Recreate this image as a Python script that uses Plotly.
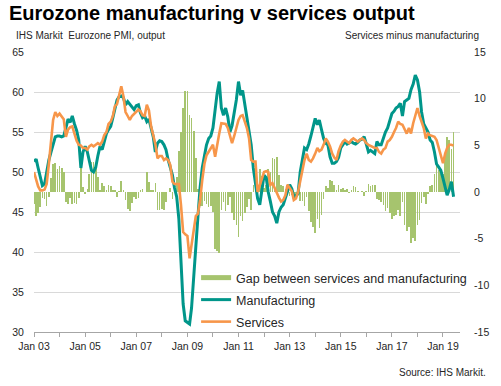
import pandas as pd
import plotly.graph_objects as go

# Monthly data, Jan 2003 - Jun 2019
months = pd.date_range("2003-01-01", periods=198, freq="MS")

manufacturing = [
    # 2003
    51.3, 51.6, 50.5, 49.3, 48.3, 48.5, 50.0, 51.5, 52.5, 53.5, 54.4, 54.5,
    # 2004
    54.5, 54.4, 54.5, 55.5, 56.6, 56.2, 57.0, 56.0, 55.2, 54.0, 50.5, 52.5,
    # 2005
    53.2, 52.5, 51.3, 50.2, 50.0, 50.6, 52.0, 53.2, 52.8, 54.0, 54.8, 55.3,
    # 2006
    55.7, 56.8, 58.0, 59.0, 59.4, 59.5, 59.3, 58.4, 58.8, 58.5, 58.2, 57.8,
    # 2007
    58.3, 58.4, 57.4, 56.8, 57.0, 56.3, 56.6, 55.5, 54.4, 52.5, 53.6, 53.9,
    # 2008
    53.8, 53.4, 52.8, 51.5, 50.5, 49.6, 48.0, 46.9, 44.1, 39.5, 33.5, 31.4,
    # 2009
    31.2, 31.0, 33.0, 36.5, 40.9, 44.5, 48.0, 50.5, 52.0, 53.4, 54.2, 54.5,
    # 2010
    55.5, 58.0, 59.8, 61.3, 58.0, 57.1, 58.0, 56.9, 55.0, 55.8, 57.5, 59.0,
    # 2011
    61.3, 59.6, 60.2, 58.5, 57.1, 55.0, 53.4, 50.5, 48.5, 46.7, 45.9, 47.5,
    # 2012
    49.6, 49.3, 47.5, 46.3, 45.0, 44.5, 43.6, 45.0, 45.6, 45.9, 46.8, 47.5,
    # 2013
    48.4, 47.9, 46.9, 47.0, 47.3, 50.0, 51.5, 53.0, 52.8, 53.5, 54.5, 55.5,
    # 2014
    56.7, 55.9, 56.5, 55.3, 54.2, 53.6, 53.4, 51.9, 51.1, 51.1, 51.3, 51.8,
    # 2015
    53.0, 53.4, 53.8, 53.5, 53.7, 53.8, 53.6, 53.5, 53.7, 54.0, 54.1, 54.4,
    # 2016
    53.5, 52.5, 52.7, 52.5, 52.3, 53.8, 53.4, 53.4, 54.2, 55.0, 55.5, 56.3,
    # 2017
    57.3, 57.6, 58.0, 58.2, 58.6, 57.0, 58.8, 59.0, 59.2, 60.3, 61.0, 62.1,
    # 2018
    61.5, 60.0, 57.5, 56.0, 55.5, 55.0, 54.0, 53.7, 52.5, 51.0, 50.6, 50.2,
    # 2019
    49.2, 48.2, 47.1, 47.8, 48.8, 46.9,
]

services = [
    # 2003
    50.0, 49.0, 48.2, 47.7, 47.7, 47.8, 48.5, 51.0, 54.0, 56.5, 57.5, 57.0,
    # 2004
    57.3, 57.0, 56.6, 54.4, 55.3, 55.6, 55.7, 54.8, 53.9, 53.4, 53.3, 53.0,
    # 2005
    53.0, 52.8, 53.2, 53.4, 53.2, 53.4, 53.6, 53.4, 53.8, 54.6, 55.0, 56.0,
    # 2006
    56.3, 57.0, 58.2, 58.5, 59.5, 60.7, 59.5, 57.5, 57.0, 56.5, 57.0, 57.3,
    # 2007
    57.5, 57.8, 57.6, 57.1, 57.0, 58.4, 57.7, 55.7, 54.6, 53.5, 51.7, 52.0,
    # 2008
    52.0, 51.5, 51.7, 51.5, 50.9, 48.8, 48.5, 48.5, 48.5, 45.9, 42.5, 42.2,
    # 2009
    42.0, 39.2, 40.9, 43.0, 44.5, 44.8, 46.5, 49.0, 51.0, 52.1, 52.6, 53.0,
    # 2010
    53.4, 51.9, 53.5, 54.8, 56.1, 56.0, 56.0, 55.5, 54.5, 53.6, 54.5, 55.5,
    # 2011
    56.5, 57.0, 57.1, 56.3, 55.5, 54.2, 51.5, 51.3, 51.3, 47.5, 48.4, 49.2,
    # 2012
    50.0, 50.1, 50.0, 48.4, 48.6, 48.0, 47.3, 46.8, 46.3, 46.5, 47.1, 48.4,
    # 2013
    48.0, 47.6, 46.5, 46.7, 47.5, 49.0, 50.5, 51.5, 52.3, 51.5, 51.3, 51.7,
    # 2014
    52.3, 53.0, 52.6, 52.8, 53.4, 54.2, 53.8, 53.2, 52.3, 51.8, 51.5, 52.6,
    # 2015
    53.3, 53.8, 54.0, 53.8, 53.6, 54.0, 54.2, 54.0, 53.8, 54.0, 54.2, 54.0,
    # 2016
    53.6, 53.4, 53.3, 53.2, 53.0, 53.0, 52.5, 52.3, 52.8, 53.0, 53.8, 54.0,
    # 2017
    54.4, 55.0, 55.5, 56.3, 56.0, 55.9, 55.3, 54.8, 55.5, 54.8, 56.1, 56.9,
    # 2018
    58.0, 57.0, 56.3, 55.5, 54.2, 54.8, 54.6, 54.5, 54.4, 54.0, 53.0, 52.1,
    # 2019
    51.1, 52.3, 53.0, 53.4, 53.4, 53.3,
]

gap = [round(s - m, 2) for s, m in zip(services, manufacturing)]

year_ticks = pd.date_range("2003-01-01", "2019-01-01", freq="YS")
year_labels = [d.strftime("Jan %y") if d.year % 2 == 1 else "" for d in year_ticks]

left_ticks = [30, 35, 40, 45, 50, 55, 60, 65]
right_ticks = [-15, -10, -5, 0, 5, 10, 15]
right_labels = [str(v) for v in right_ticks]

TEAL = "#00968a"
ORANGE = "#f7964a"
GREEN = "#a6c46e"
FONT = "Arial, Liberation Sans, sans-serif"
TXT = "#262626"

fig = go.Figure()

fig.add_trace(go.Bar(
    x=months, y=gap, yaxis="y", marker=dict(color=GREEN, line=dict(width=0)),
    width=9 * 86400000, showlegend=False, name="Gap between services and manufacturing",
))
fig.add_trace(go.Scatter(
    x=[None], y=[None], mode="lines", yaxis="y2",
    line=dict(color=GREEN, width=5),
    name="Gap between services and manufacturing", legend="legend",
))
fig.add_trace(go.Scatter(
    x=months, y=manufacturing, mode="lines", yaxis="y2",
    line=dict(color=TEAL, width=3), name="Manufacturing", legend="legend2",
))
fig.add_trace(go.Scatter(
    x=months, y=services, mode="lines", yaxis="y2",
    line=dict(color=ORANGE, width=2.6), name="Services", legend="legend3",
))

def px_to_paper(ypx):
    return (332 - ypx) / 280.0

leg_common = dict(xanchor="left", yanchor="middle", bgcolor="rgba(0,0,0,0)",
                  font=dict(family=FONT, size=12.5, color=TXT), itemwidth=30,
                  borderwidth=0)

fig.update_layout(
    width=501, height=386,
    margin=dict(l=32, r=38, t=52, b=54),
    paper_bgcolor="white", plot_bgcolor="white",
    font=dict(family=FONT, color=TXT, size=10.5),
    bargap=0,
    xaxis=dict(
        type="date", range=["2003-01-01", "2019-09-01"],
        tickvals=list(year_ticks), ticktext=year_labels,
        ticks="outside", ticklen=4, tickcolor="#a6a6a6",
        showline=True, linecolor="#a6a6a6", linewidth=1,
        showgrid=False, zeroline=False,
        tickfont=dict(size=10.5, color=TXT),
    ),
    yaxis=dict(
        side="right", range=[-15, 15], tickvals=right_ticks, ticktext=right_labels,
        showgrid=False, zeroline=False, ticks="outside", ticklen=11,
        tickcolor="rgba(0,0,0,0)", tickfont=dict(size=10.5, color=TXT),
    ),
    yaxis2=dict(
        side="left", overlaying="y", range=[30, 65], tickvals=left_ticks,
        showgrid=True, gridcolor="#d9d9d9", gridwidth=1, zeroline=False,
        ticks="outside", ticklen=7, tickcolor="rgba(0,0,0,0)",
        tickfont=dict(size=10.5, color=TXT),
    ),
    legend=dict(x=(196 - 32) / 431, y=px_to_paper(278), **leg_common),
    legend2=dict(x=(196 - 32) / 431, y=px_to_paper(300), **leg_common),
    legend3=dict(x=(196 - 32) / 431, y=px_to_paper(322), **leg_common),
)

fig.add_annotation(
    text="<b>Eurozone manufacturing v services output</b>",
    xref="paper", yref="paper", x=(5 - 32) / 431, y=px_to_paper(13),
    xanchor="left", yanchor="middle", showarrow=False,
    font=dict(family=FONT, size=20, color="#000000"),
)
fig.add_annotation(
    text="IHS Markit\u00a0 Eurozone PMI, output",
    xref="paper", yref="paper", x=(12 - 32) / 431, y=px_to_paper(36),
    xanchor="left", yanchor="middle", showarrow=False,
    font=dict(family=FONT, size=10, color=TXT),
)
fig.add_annotation(
    text="Services minus manufacturing",
    xref="paper", yref="paper", x=(484 - 32) / 431, y=px_to_paper(36),
    xanchor="right", yanchor="middle", showarrow=False,
    font=dict(family=FONT, size=10, color=TXT),
)
fig.add_annotation(
    text="Source: IHS Markit.",
    xref="paper", yref="paper", x=(491 - 32) / 431, y=px_to_paper(372),
    xanchor="right", yanchor="middle", showarrow=False,
    font=dict(family=FONT, size=10, color=TXT),
)

fig.write_html(
    "out.html",
    config={"displayModeBar": False},
    post_script="document.body.style.margin='0';document.body.style.overflow='hidden';",
)
